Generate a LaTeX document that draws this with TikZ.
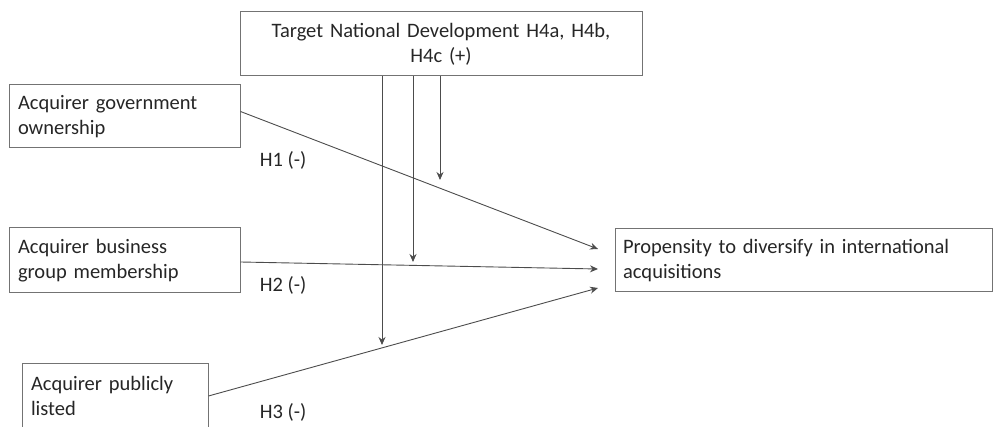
\documentclass[tikz,border=0pt]{standalone}
\usepackage{fontspec}
\setmainfont{Carlito}
\usetikzlibrary{arrows.meta}

\tikzset{
  box/.style={draw=black!55, line width=1pt, inner xsep=9pt, inner ysep=4pt,
    text=black!85, font=\fontsize{20.5}{25}\selectfont},
  link/.style={draw=black!70, line width=0.9pt, -{Stealth[length=8pt,width=7pt]}},
  hyp/.style={text=black!85, font=\fontsize{20.5}{25}\selectfont}
}

\begin{document}
\begin{tikzpicture}[x=1pt, y=-1pt]
\useasboundingbox (0,0) rectangle (993,427);

% Moderator bovenaan
\node[box, align=center, text width=384pt, minimum height=64pt] (tnd) at (441,44)
  {Target National Development H4a, H4b,\\H4c (+)};

% Onafhankelijke variabelen
\node[box, align=left, text width=213pt, minimum height=63pt] (gov) at (124.5,116.5)
  {Acquirer government\\ownership};
\node[box, align=left, text width=213pt, minimum height=65pt] (bus) at (124.5,260.5)
  {Acquirer business\\group membership};
\node[box, align=left, text width=168pt, minimum height=64pt] (pub) at (115,396)
  {Acquirer publicly\\listed};

% Afhankelijke variabele
\node[box, align=left, text width=361pt, inner xsep=8pt, minimum height=63pt] (prop) at (803.5,260.5)
  {Propensity to diversify in international\\acquisitions};

% Eindpunten van de pijlen
\coordinate (h1) at (598,249);
\coordinate (h2) at (598,269);
\coordinate (h3) at (598,288);
\coordinate (m1) at (382,345);
\coordinate (m2) at (413,262);
\coordinate (m3) at (440,180);

% Hoofdeffecten
\draw[link] ([yshift=5pt]gov.east) -- (h1);
\draw[link] ([yshift=-1.5pt]bus.east) -- (h2);
\draw[link] (pub.east) -- (h3);

% Moderatie-effecten
\foreach \m in {m1,m2,m3}
  \draw[link] (tnd.south -| \m) -- (\m);

% Hypothesen
\node[hyp] (lh1) at (283,160) {H1 (-)};
\node[hyp] (lh2) at (283,285) {H2 (-)};
\node[hyp] (lh3) at (283,412) {H3 (-)};
\end{tikzpicture}
\end{document}
